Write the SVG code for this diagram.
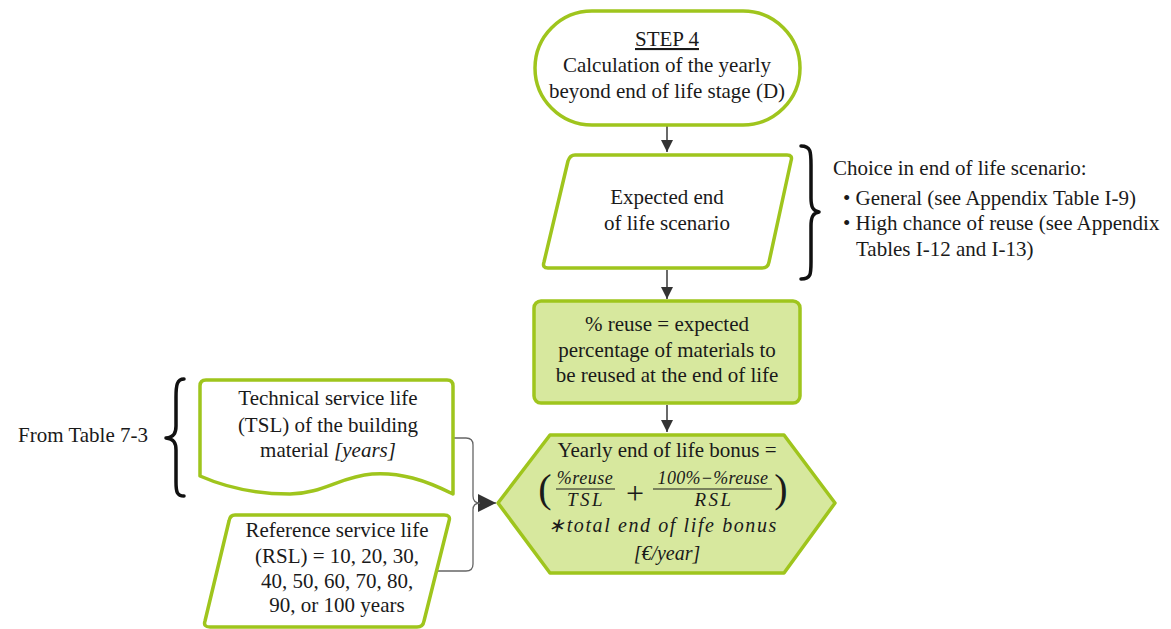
<svg xmlns="http://www.w3.org/2000/svg" width="1171" height="629" viewBox="0 0 1171 629">
  <defs>
    <style>
      .shape { fill: #ffffff; stroke: #9fc51d; stroke-width: 3.5; stroke-linejoin: round; }
      .shape.fill { fill: #d7e89e; }
      .t { font-family: "Liberation Serif", "Times New Roman", serif; font-size: 21px; fill: #1a1a1a; text-anchor: middle; }
      .l { text-anchor: start; }
      .it { font-style: italic; }
      .m { font-family: "Liberation Serif", "Times New Roman", serif; font-style: italic; fill: #1a1a1a; text-anchor: middle; }
      .flow { fill: none; stroke: #444444; stroke-width: 1.6; }
      .join { fill: none; stroke: #666666; stroke-width: 1.3; }
      .brace { fill: none; stroke: #111111; stroke-width: 3.5; stroke-linecap: round; stroke-linejoin: round; }
    </style>
    <marker id="arrow" viewBox="0 0 10 10" refX="10" refY="5" markerWidth="12" markerHeight="12" markerUnits="userSpaceOnUse" orient="auto">
      <path d="M0,0 L10,5 L0,10 z" fill="#333333"/>
    </marker>
    <marker id="arrowBig" viewBox="0 0 10 10" refX="10" refY="5" markerWidth="18" markerHeight="18" markerUnits="userSpaceOnUse" orient="auto">
      <path d="M0,0 L10,5 L0,10 z" fill="#333333"/>
    </marker>
  </defs>

  <!-- connectors -->
  <g id="connectors">
    <line class="flow" x1="667" y1="126" x2="667" y2="152" marker-end="url(#arrow)"/>
    <line class="flow" x1="667" y1="270" x2="667" y2="299" marker-end="url(#arrow)"/>
    <line class="flow" x1="667" y1="405" x2="667" y2="432" marker-end="url(#arrow)"/>
    <path class="join" d="M453,438 L466,438 Q473,438 473,445 L473,496 Q473,503 480,503 L496,503" marker-end="url(#arrowBig)"/>
    <path class="join" d="M438,571 L466,571 Q473,571 473,564 L473,510 Q473,503 480,503"/>
  </g>

  <!-- start terminator -->
  <g id="step4">
    <rect class="shape" x="535" y="11" width="265" height="114" rx="57"/>
    <text class="t" x="667" y="46" text-decoration="underline">STEP 4</text>
    <text class="t" x="667" y="72">Calculation of the yearly</text>
    <text class="t" x="667" y="98">beyond end of life stage (D)</text>
  </g>

  <!-- scenario input -->
  <g id="scenario">
    <path class="shape" d="M575,155 L787,155 Q793,155 791,161 L769,262 Q768,268 762,268 L548,268 Q542,268 544,262 L568,161 Q570,155 575,155 Z"/>
    <text class="t" x="667" y="204">Expected end</text>
    <text class="t" x="667" y="230">of life scenario</text>
  </g>

  <!-- scenario note -->
  <g id="scenario-note">
    <path class="brace" d="M801,146 C811,146 811,152 811,165 L811,198 C811,207 813,211 819,212 C813,213 811,217 811,226 L811,262 C811,274 811,279 801,279"/>
    <text class="t l" x="833" y="175">Choice in end of life scenario:</text>
    <text class="t l" x="843" y="205">• General (see Appendix Table I-9)</text>
    <text class="t l" x="843" y="230">• High chance of reuse (see Appendix</text>
    <text class="t l" x="856" y="256">Tables I-12 and I-13)</text>
  </g>

  <!-- reuse definition -->
  <g id="reuse">
    <rect class="shape fill" x="534" y="301" width="266" height="102" rx="7"/>
    <text class="t" x="667" y="331">% reuse = expected</text>
    <text class="t" x="667" y="357">percentage of materials to</text>
    <text class="t" x="667" y="382">be reused at the end of life</text>
  </g>

  <!-- technical service life document -->
  <g id="tsl">
    <path class="shape" d="M206,380 L447,380 Q453,380 453,386 L453,494 C425,480 400,472 372,474 C342,476 322,494 290,494 C255,494 225,487 200,476 L200,386 Q200,380 206,380 Z"/>
    <text class="t" x="328" y="405">Technical service life</text>
    <text class="t" x="328" y="432">(TSL) of the building</text>
    <text class="t" x="328" y="457">material <tspan class="it">[years]</tspan></text>
  </g>

  <!-- source note -->
  <g id="tsl-note">
    <path class="brace" d="M184,379 C177,379 176,385 176,397 L176,426 C176,433 174,437 166,438 C174,439 176,443 176,450 L176,482 C176,492 177,496 184,496"/>
    <text class="t l" x="18" y="442">From Table 7-3</text>
  </g>

  <!-- reference service life input -->
  <g id="rsl">
    <path class="shape" d="M235,515 L444,515 Q451,515 449,521 L424,621 Q423,627 417,627 L210,627 Q203,627 205,621 L229,521 Q230,515 235,515 Z"/>
    <text class="t" x="337" y="537">Reference service life</text>
    <text class="t" x="337" y="563">(RSL) = 10, 20, 30,</text>
    <text class="t" x="337" y="588">40, 50, 60, 70, 80,</text>
    <text class="t" x="337" y="612">90, or 100 years</text>
  </g>

  <!-- yearly bonus result -->
  <g id="bonus">
    <path class="shape fill" d="M498,503 L550,435 L784,435 L835,503 L784,573 L550,573 Z"/>
    <text class="t" x="667" y="457">Yearly end of life bonus =</text>
    <text class="t" x="545" y="502" style="font-size:40px; font-weight:300">(</text>
    <text class="m" x="585" y="484" style="font-size:18px; letter-spacing:0.5px">%reuse</text>
    <line x1="556" y1="489" x2="615" y2="489" stroke="#1a1a1a" stroke-width="1"/>
    <text class="m" x="586" y="506" style="font-size:19px; letter-spacing:2.5px">TSL</text>
    <text class="t" x="635" y="504" style="font-size:32px">+</text>
    <text class="m" x="713" y="484" style="font-size:18px; letter-spacing:0.3px">100%−%reuse</text>
    <line x1="653" y1="489" x2="772" y2="489" stroke="#1a1a1a" stroke-width="1"/>
    <text class="m" x="714" y="506" style="font-size:19px; letter-spacing:2.5px">RSL</text>
    <text class="t" x="781" y="502" style="font-size:40px; font-weight:300">)</text>
    <text class="m" x="663" y="532" style="font-size:20px; letter-spacing:1.6px">∗total end of life bonus</text>
    <text class="m" x="667" y="560" style="font-size:20px">[€/year]</text>
  </g>
</svg>
